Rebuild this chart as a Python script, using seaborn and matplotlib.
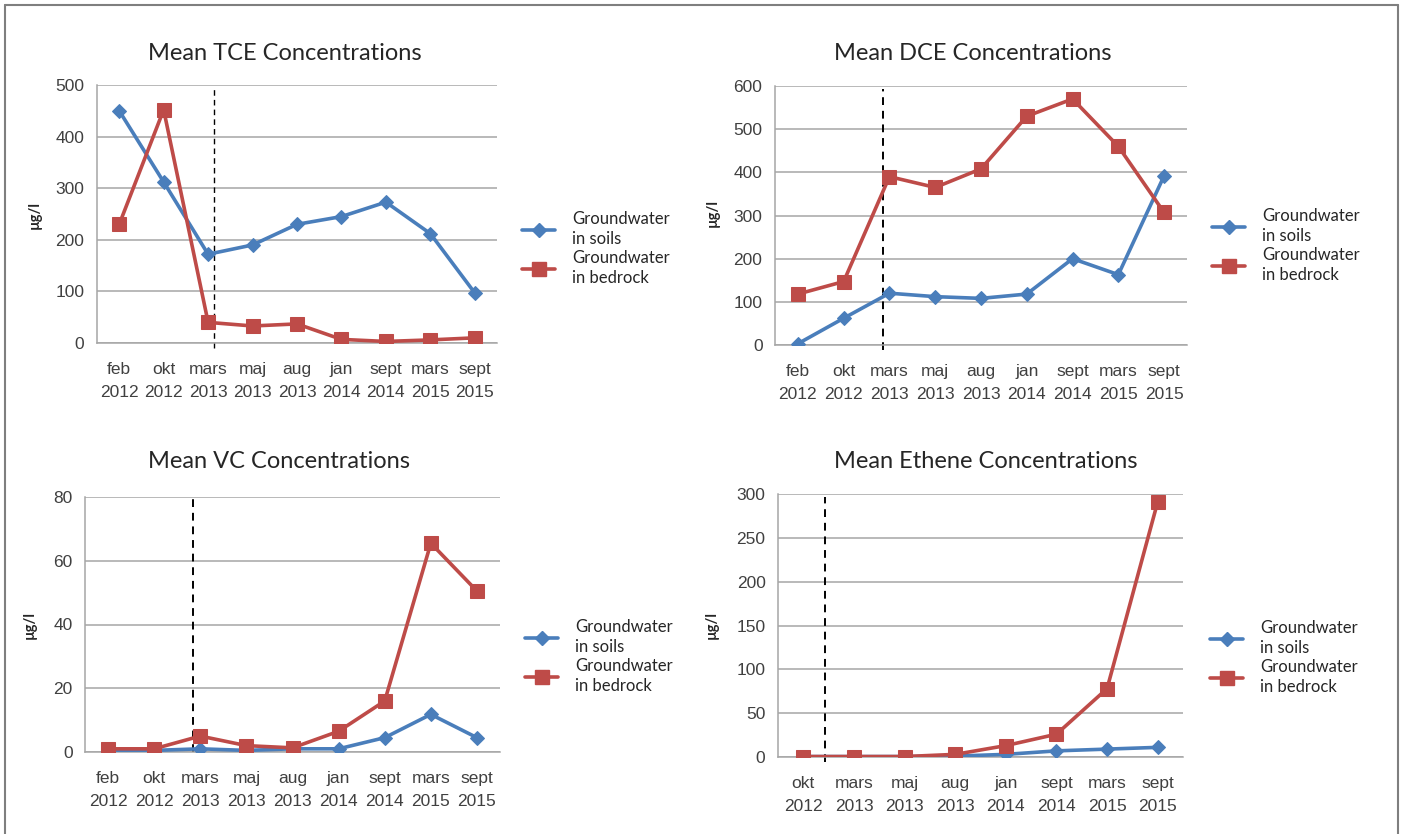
import numpy as np
import pandas as pd
import matplotlib
matplotlib.use("Agg")
import matplotlib.pyplot as plt
from matplotlib.lines import Line2D
import seaborn as sns

sns.set_theme(style="white")
plt.rcParams["font.family"] = ["Lato", "DejaVu Sans"]

# ---- data ----
months_full = ["feb\n2012", "okt\n2012", "mars\n2013", "maj\n2013", "aug\n2013",
               "jan\n2014", "sept\n2014", "mars\n2015", "sept\n2015"]
months_eth = months_full[1:]

tce_soils = [450, 312, 172, 190, 230, 245, 273, 212, 97]
tce_bedrock = [230, 452, 40, 33, 37, 7, 3, 6, 10]

dce_soils = [3, 62, 120, 112, 108, 118, 200, 163, 392]
dce_bedrock = [118, 147, 390, 365, 408, 530, 570, 460, 307]

vc_soils = [0.5, 0.5, 1, 0.5, 1, 1, 4.5, 11.8, 4.5]
vc_bedrock = [1, 1, 5, 2, 1.3, 6.5, 16, 65.5, 50.5]

eth_soils = [0.5, 0.5, 0.5, 1, 3, 7, 9, 11]
eth_bedrock = [0.5, 0.5, 0.5, 3, 13, 26, 78, 291]

BLUE = "#4a7ebb"
RED = "#be4b48"
GRID = "#a6a6a6"
TICK_FONT = ["Liberation Sans Narrow", "Liberation Sans", "DejaVu Sans"]

W, H = 1407, 834
fig = plt.figure(figsize=(W / 100, H / 100), dpi=100)


def px(x, y):
    return x / W, 1 - y / H


def panel(rect, labels, soils, bedrock, ymax, ystep, title, title_xy,
          dash_x, ylab_xy, leg_xy, dash_lw=1.4, dash_rng=(-0.02, 0.99)):
    l, t, r, b = rect
    ax = fig.add_axes([l / W, 1 - b / H, (r - l) / W, (b - t) / H])
    df = pd.DataFrame({"pos": np.arange(len(labels)),
                       "soils": soils, "bedrock": bedrock})
    sns.lineplot(data=df, x="pos", y="soils", ax=ax, color=BLUE, lw=2.6,
                 marker="D", markersize=7, markeredgecolor=BLUE, zorder=3)
    sns.lineplot(data=df, x="pos", y="bedrock", ax=ax, color=RED, lw=2.6,
                 marker="s", markersize=10, markeredgecolor=RED, zorder=4)
    ax.set_xlim(-0.5, len(labels) - 0.5)
    ax.set_ylim(0, ymax)
    ax.set_yticks(np.arange(0, ymax + 1, ystep))
    ax.set_xticks(np.arange(len(labels)))
    ax.set_xticklabels(labels, linespacing=1.6)
    for lab in ax.get_xticklabels() + ax.get_yticklabels():
        lab.set_fontfamily(TICK_FONT)
        lab.set_fontsize(12.5)
        lab.set_color("#404040")
    ax.tick_params(axis="x", length=0, pad=14)
    ax.tick_params(axis="y", length=0, pad=9)
    ax.set_xlabel("")
    ax.set_ylabel("")
    ax.grid(axis="y", color=GRID, lw=1.1)
    ax.set_axisbelow(True)
    for s in ["top", "right"]:
        ax.spines[s].set_visible(False)
    for s in ["left", "bottom"]:
        ax.spines[s].set_color(GRID)
        ax.spines[s].set_linewidth(1.1)
    ax.axvline(dash_x, ymin=dash_rng[0], ymax=dash_rng[1], color="black",
               lw=dash_lw, ls=(0, (4, 3)), clip_on=False, zorder=2)

    fig.text(*px(*title_xy), title, ha="center", va="center", fontsize=17)
    fig.text(*px(*ylab_xy), "µg/l", ha="center", va="center", rotation=90,
             fontsize=10.5, fontweight="bold")

    handles = [Line2D([], [], color=BLUE, lw=2.6, marker="D", markersize=7),
               Line2D([], [], color=RED, lw=2.6, marker="s", markersize=10)]
    leg = fig.legend(handles, ["Groundwater\nin soils", "Groundwater\nin bedrock"],
                     loc="upper left", bbox_to_anchor=px(*leg_xy), frameon=False,
                     fontsize=12, borderpad=0, borderaxespad=0, handlelength=2.0,
                     handletextpad=1.0, labelspacing=0.2)
    for txt in leg.get_texts():
        txt.set_linespacing(1.3)
    return ax


panel((97, 85, 497, 343), months_full, tce_soils, tce_bedrock, 500, 100,
      "Mean TCE Concentrations", (285, 53), 2.13, (35, 215), (522, 211),
      dash_lw=1.0)
panel((775, 86, 1187, 345), months_full, dce_soils, dce_bedrock, 600, 100,
      "Mean DCE Concentrations", (973, 53), 1.85, (713, 213), (1212, 208))
panel((85, 497, 500, 752), months_full, vc_soils, vc_bedrock, 80, 20,
      "Mean VC Concentrations", (279, 462), 1.85, (30, 625), (525, 619),
      dash_rng=(0, 1.0))
panel((778, 494, 1183, 757), months_eth, eth_soils, eth_bedrock, 300, 50,
      "Mean Ethene Concentrations", (986, 462), 0.43, (712, 625), (1210, 620))

# outer frame
frame_kw = dict(color="#7f7f7f", lw=1.5, transform=fig.transFigure)
fig.add_artist(Line2D([5 / W, 1398 / W], [1 - 5 / H, 1 - 5 / H], **frame_kw))
fig.add_artist(Line2D([5 / W, 5 / W], [0, 1 - 5 / H], **frame_kw))
fig.add_artist(Line2D([1398 / W, 1398 / W], [0, 1 - 5 / H], **frame_kw))

fig.savefig("out.png", dpi=100)
